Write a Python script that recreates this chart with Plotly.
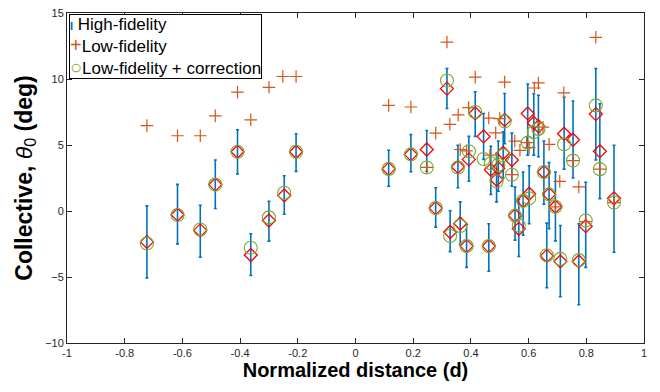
import plotly.graph_objects as go

# ---- data ----
distance = [-0.723, -0.617, -0.538, -0.486, -0.409, -0.363, -0.300, -0.247, -0.206,
            0.115, 0.192, 0.247, 0.278, 0.317, 0.328, 0.355, 0.363, 0.385, 0.393,
            0.415, 0.444, 0.462, 0.469, 0.489, 0.495, 0.512, 0.517, 0.542, 0.553,
            0.566, 0.581, 0.597, 0.602, 0.618, 0.634, 0.653, 0.663, 0.671, 0.693,
            0.710, 0.723, 0.754, 0.774, 0.798, 0.833, 0.847, 0.896]
high_fidelity = [-2.34, -0.28, -1.47, 2.00, 4.49, -3.33, -0.72, 1.18, 4.49,
                 3.19, 4.29, 4.66, 0.22, 9.27, -1.59, 3.34, -0.95, -2.66, 3.91,
                 7.39, 5.65, -2.66, 3.12, 2.37, 3.24, 4.41, 6.90, 3.86, -0.35,
                 -1.35, 0.77, 7.39, 1.31, 6.67, 6.42, 2.95, -3.40, 1.26, 0.32,
                 -3.82, 5.85, 5.40, -3.82, -1.15, 7.34, 4.53, 0.96]
hf_lower = [-5.07, -2.49, -3.50, 0.19, 2.80, -4.89, -2.28, -0.25, 3.00,
            1.88, 2.97, 3.00, -1.22, 7.76, -3.08, 1.76, -2.54, -4.27, 2.25,
            5.65, 3.91, -4.57, 1.26, 0.69, 1.50, 2.50, 5.10, 1.88, -2.21,
            -3.45, -1.84, 4.23, -0.97, 4.23, 4.11, 0.51, -5.81, -1.35, -2.26,
            -6.50, 3.17, 2.50, -7.10, -4.27, 3.86, 0.94, -3.13]
hf_upper = [0.39, 2.02, 0.44, 3.86, 6.15, -1.72, 0.74, 2.67, 5.85,
            4.60, 5.80, 6.10, 1.76, 10.80, 0.02, 4.98, 0.69, -1.02, 5.65,
            9.03, 7.39, -0.97, 4.90, 4.36, 5.30, 6.00, 8.90, 5.90, 1.81,
            0.89, 2.95, 9.62, 3.42, 8.88, 8.77, 5.30, -0.92, 3.67, 2.95,
            -1.10, 8.62, 8.33, -0.97, 2.18, 10.80, 8.13, 4.98]
corrected = [-2.46, -0.30, -1.40, 2.00, 4.49, -2.78, -0.48, 1.38, 4.49,
             3.19, 4.29, 3.30, 0.22, 9.89, -1.89, 3.30, -1.13, -2.66, 4.53,
             7.50, 3.94, -2.66, 3.62, 2.25, 3.50, 4.20, 6.79, 2.75, -0.35,
             -1.10, 0.77, 5.18, 0.96, 5.97, 6.22, 2.95, -3.35, 1.26, 0.32,
             -3.63, 5.05, 3.82, -3.72, -0.72, 8.00, 3.17, 0.64]

lf_distance = [-0.723, -0.617, -0.538, -0.486, -0.409, -0.363, -0.300, -0.252, -0.206,
               0.115, 0.192, 0.247, 0.278, 0.317, 0.327, 0.356, 0.363, 0.385, 0.392,
               0.415, 0.462, 0.466, 0.486, 0.500, 0.517, 0.542, 0.552, 0.570, 0.593,
               0.602, 0.620, 0.634, 0.650, 0.671, 0.693, 0.708, 0.722, 0.754, 0.774,
               0.798, 0.833, 0.847, 0.896]
low_fidelity = [6.47, 5.70, 5.70, 7.21, 9.00, 6.91, 9.37, 10.19, 10.19,
                8.00, 7.88, 3.30, 5.90, 12.80, 6.57, 7.28, 4.66, 4.56, 7.83,
                10.14, 7.04, 4.23, 5.92, 7.00, 9.77, 2.75, 5.30, 4.60, 5.18,
                4.80, 9.32, 9.70, 6.35, 5.05, 0.32, 2.25, 8.95, 3.82, 1.83,
                -0.80, 13.16, 3.17, 0.64]

x_ticks = [-1, -0.8, -0.6, -0.4, -0.2, 0, 0.2, 0.4, 0.6, 0.8, 1]
x_tick_labels = ["-1", "-0.8", "-0.6", "-0.4", "-0.2", "0", "0.2", "0.4", "0.6", "0.8", "1"]
y_ticks = [-10, -5, 0, 5, 10, 15]

series_names = ["High-fidelity", "Low-fidelity", "Low-fidelity + correction"]

BLUE = "#0072BD"
ORANGE = "#D95319"
GREEN = "#77AC30"
RED = "#FF0000"
FONT = "Liberation Sans, Arial, sans-serif"

err_plus = [u - h for u, h in zip(hf_upper, high_fidelity)]
err_minus = [h - l for h, l in zip(high_fidelity, hf_lower)]

fig = go.Figure()

fig.add_trace(go.Scatter(
    x=distance, y=high_fidelity, mode="markers", name=series_names[0],
    marker=dict(color=RED, size=10, symbol="diamond-open", line=dict(width=1.3, color=RED)),
    error_y=dict(type="data", symmetric=False, array=err_plus, arrayminus=err_minus,
                 color=BLUE, thickness=1.6, width=1.5),
))
fig.add_trace(go.Scatter(
    x=lf_distance, y=low_fidelity, mode="markers", name=series_names[1],
    marker=dict(color=ORANGE, size=9, symbol="cross-thin-open", line=dict(width=1.2, color=ORANGE)),
))
fig.add_trace(go.Scatter(
    x=distance, y=corrected, mode="markers", name=series_names[2],
    marker=dict(color=GREEN, size=13, symbol="circle-open", line=dict(width=1.1, color=GREEN)),
))

axis_common = dict(
    showline=True, linecolor="#262626", linewidth=1, mirror="ticks",
    ticks="inside", ticklen=5, tickcolor="#262626", tickwidth=1,
    showgrid=False, zeroline=False,
    tickfont=dict(family=FONT, size=11, color="#262626"),
)

legend_text = (
    f"<span style='color:{BLUE};font-size:11px'><b>I</b></span> {series_names[0]}<br>"
    f"<span style='color:{ORANGE};font-size:20px'>+</span>{series_names[1]}<br>"
    f"<span style='color:{GREEN};font-size:20px'>○</span>{series_names[2]}"
)

fig.update_layout(
    width=660, height=392,
    margin=dict(l=67, r=16, t=7, b=49),
    paper_bgcolor="white", plot_bgcolor="white",
    font=dict(family=FONT, color="#000000"),
    xaxis=dict(range=[-1, 1], tickvals=x_ticks, ticktext=x_tick_labels,
               title=dict(text="<b>Normalized distance (d)</b>", font=dict(size=20, family=FONT, color="#000"), standoff=4),
               **axis_common),
    yaxis=dict(range=[-10, 15], tickvals=y_ticks,
               title=dict(text="<b>Collective, </b><i>θ</i><sub>0</sub><b> (deg)</b>", font=dict(size=23, family=FONT, color="#000"), standoff=6),
               **axis_common),
    showlegend=False,
    annotations=[dict(
        text=legend_text, xref="paper", yref="paper", x=0, y=1,
        xanchor="left", yanchor="top", xshift=2, yshift=-1, align="left",
        showarrow=False, font=dict(size=17, family=FONT, color="#000"),
        bgcolor="white", bordercolor="#000000", borderwidth=1, borderpad=0,
    )],
)

fig.write_html("out.html")
